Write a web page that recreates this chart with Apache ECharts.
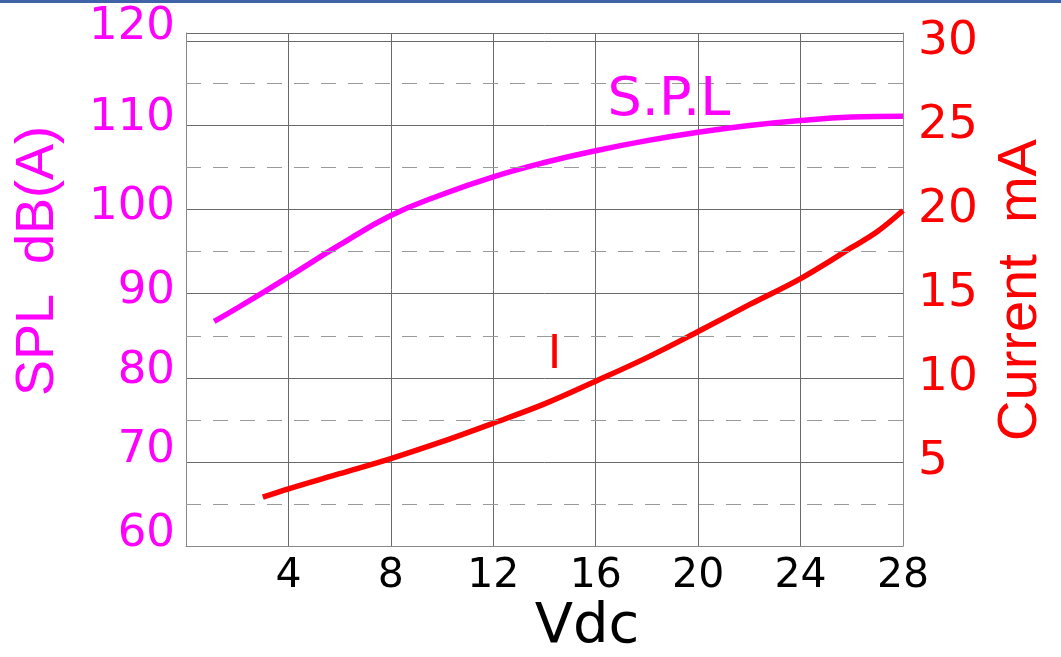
<!DOCTYPE html>
<html>
<head>
<meta charset="utf-8">
<script src="https://cdn.jsdelivr.net/npm/echarts@6/dist/echarts.min.js"></script>
<style>
html,body{margin:0;padding:0;background:#fff;}
#chart{width:1061px;height:657px;}
</style>
</head>
<body>
<div id="chart"></div>
<script>
// ---- data ----
const xTicks = [4, 8, 12, 16, 20, 24, 28];
const splVolts = [1.1, 2, 4, 6, 8, 10, 12, 14, 16, 18, 20, 22, 24, 26, 28];
const splValues = [86.7, 88.3, 92.0, 95.8, 99.3, 101.8, 103.9, 105.6, 107.0, 108.2, 109.2, 110.0, 110.6, 111.0, 111.1];
const curVolts = [3, 4, 6, 8, 10, 12, 14, 16, 18, 20, 22, 24, 26, 27, 28];
const curValues = [2.9, 3.4, 4.3, 5.2, 6.2, 7.3, 8.45, 9.8, 11.2, 12.75, 14.35, 15.9, 17.75, 18.7, 19.95];
const splTickLabels = [60, 70, 80, 90, 100, 110, 120];
const splHalfSteps = [65, 75, 85, 95, 105, 115];
const curTickLabels = [5, 10, 15, 20, 25, 30];
const splLabelPos = [18.86, 112.9];
const curLabelPos = [14.39, 11.27];

const splData = splVolts.map((v, i) => [v, splValues[i]]);
const curData = curVolts.map((v, i) => [v, curValues[i]]);

const MAG = '#ff00ff';
const RED = '#ff0000';
const numFont = "'DejaVu Sans', sans-serif";
const titleFont = "'Liberation Sans', Arial, sans-serif";

// small vertical nudges of the left tick labels (they sit slightly above their lines in the reference)
const leftNudge = {60: 12, 70: 12, 80: 6, 90: 2, 100: 2, 110: 7, 120: 14};
const leftRich = {};
splTickLabels.forEach(v => {
  leftRich['l' + v] = {color: MAG, fontFamily: numFont, fontSize: 45, padding: [0, 0, leftNudge[v] * 2, 0]};
});

const chart = echarts.init(document.getElementById('chart'), null, {renderer: 'canvas'});
chart.setOption({
  animation: false,
  backgroundColor: '#ffffff',
  grid: {left: 186, right: 158, top: 33, bottom: 111, containLabel: false},
  xAxis: {
    type: 'value', min: 0, max: 28, interval: 4,
    axisLine: {show: true, lineStyle: {color: '#888', width: 1}},
    axisTick: {show: false},
    axisLabel: {
      color: '#000', fontFamily: numFont, fontSize: 41, margin: 10,
      formatter: v => xTicks.indexOf(v) >= 0 ? String(v) : ''
    },
    splitLine: {show: true, lineStyle: {color: '#6a6a6a', width: 1}}
  },
  yAxis: [
    {
      type: 'value', min: 60, max: 121, interval: 10, position: 'left',
      axisLine: {show: true, lineStyle: {color: '#888', width: 1}},
      axisTick: {show: false},
      axisLabel: {
        color: MAG, fontFamily: numFont, fontSize: 45, margin: 11,
        rich: leftRich,
        formatter: v => splTickLabels.indexOf(v) >= 0 ? '{l' + v + '|' + v + '}' : ''
      },
      splitLine: {show: true, lineStyle: {color: '#6a6a6a', width: 1}}
    },
    {
      type: 'value', min: 0, max: 30.5, interval: 5, position: 'right',
      axisLine: {show: true, lineStyle: {color: '#888', width: 1}},
      axisTick: {show: false},
      axisLabel: {
        color: RED, fontFamily: numFont, fontSize: 47, margin: 15,
        formatter: v => curTickLabels.indexOf(v) >= 0 ? String(v) : ''
      },
      splitLine: {show: false}
    }
  ],
  series: [
    {
      name: 'grid-half', type: 'line', yAxisIndex: 0, data: [], z: 1,
      markLine: {
        silent: true, symbol: ['none', 'none'], animation: false,
        label: {show: false},
        lineStyle: {color: '#9a9a9a', width: 1, type: [15, 12]},
        data: splHalfSteps.map(v => ({yAxis: v}))
      }
    },
    {
      name: 'S.P.L', type: 'line', yAxisIndex: 0, data: splData,
      smooth: 0.45, symbol: 'none',
      lineStyle: {color: MAG, width: 5.5}, itemStyle: {color: MAG},
      z: 3,
      markPoint: {
        symbol: 'circle', symbolSize: 0, silent: true,
        label: {show: true, position: 'inside', color: MAG, fontFamily: numFont, fontSize: 54, formatter: 'S.P.L'},
        data: [{coord: splLabelPos, value: 0}]
      }
    },
    {
      name: 'I', type: 'line', yAxisIndex: 1, data: curData,
      smooth: 0.35, symbol: 'none',
      lineStyle: {color: RED, width: 5.5}, itemStyle: {color: RED},
      z: 3,
      markPoint: {
        symbol: 'circle', symbolSize: 0, silent: true,
        label: {show: true, position: 'inside', color: RED, fontFamily: numFont, fontSize: 46, formatter: 'I'},
        data: [{coord: curLabelPos, value: 0}]
      }
    }
  ],
  graphic: [
    {type: 'rect', left: 0, top: 0, shape: {width: 1061, height: 3}, style: {fill: '#4063a8'}},
    {type: 'text', x: 38, y: 261, rotation: Math.PI / 2,
      style: {text: 'SPL  dB(A)', fill: MAG, font: "54px " + titleFont, align: 'center', verticalAlign: 'middle'}},
    {type: 'text', x: 1021, y: 290, rotation: Math.PI / 2,
      style: {text: 'Current  mA', fill: RED, font: "56px " + titleFont, align: 'center', verticalAlign: 'middle'}},
    {type: 'text', x: 587, y: 627,
      style: {text: 'Vdc', fill: '#000', font: "56px " + numFont, align: 'center', verticalAlign: 'middle'}}
  ]
});
</script>
</body>
</html>
